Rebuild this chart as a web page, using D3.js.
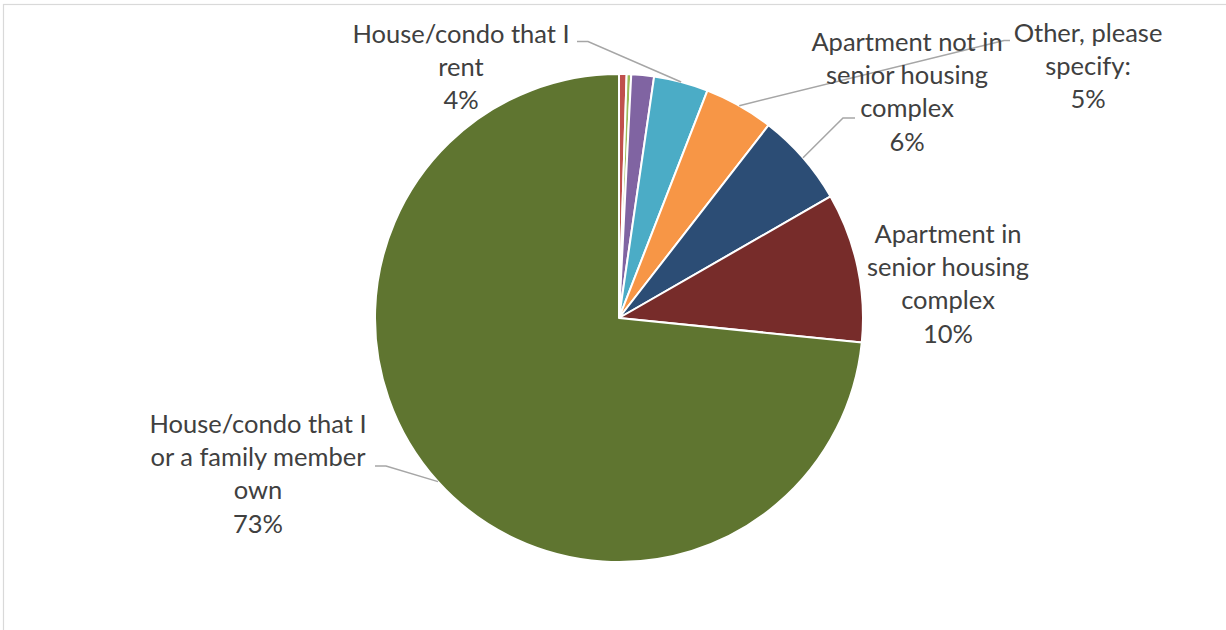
<!DOCTYPE html>
<html>
<head>
<meta charset="utf-8">
<script src="https://cdn.jsdelivr.net/npm/d3@7/dist/d3.min.js"></script>
<style>
  html, body { margin: 0; padding: 0; background: #fff; }
  svg { display: block; }
  .lbl { font-family: Lato, "Open Sans", sans-serif; fill: #404040; }
</style>
</head>
<body>
<svg id="chart" width="1226" height="630"></svg>
<script>
// Where respondents live: share of responses per housing type (percent)
const categories = [
  "Assisted living facility",
  "Nursing home",
  "Live with family",
  "House/condo that I rent",
  "Other, please specify:",
  "Apartment not in senior housing complex",
  "Apartment in senior housing complex",
  "House/condo that I or a family member own"
];
const shares = [0.5, 0.3, 1.5, 3.6, 4.6, 6.2, 9.9, 73.4];

// Label text lines (only the larger slices carry labels)
const labelLines = [
  null,
  null,
  null,
  ["House/condo that I", "rent"],
  ["Other, please", "specify:"],
  ["Apartment not in", "senior housing", "complex"],
  ["Apartment in", "senior housing", "complex"],
  ["House/condo that I", "or a family member", "own"]
];

const colors = ["#C0504D", "#9BBB59", "#8064A2", "#4BACC6", "#F79646", "#2C4D75", "#772C2A", "#5F7530"];

// Label placement: text centre x, first baseline y, and leader start (or none)
const labelLayout = [
  null, null, null,
  { x: 461, y: 43,  lead: [[577, 41.5], [588, 41.5]] },
  { x: 1088, y: 42, lead: [[1010, 40.5], [1004, 40.5]] },
  { x: 907, y: 51,  lead: [[855, 118], [843, 118]] },
  { x: 948, y: 243, lead: null },
  { x: 258, y: 433, lead: [[375, 466], [386, 466]] }
];

const svg = d3.select("#chart");
const W = 1226, H = 630;
const cx = 619, cy = 318, R = 244;
const lineGap = 33.2;

// chart frame
svg.append("rect")
  .attr("x", 3.5).attr("y", 4.5)
  .attr("width", W + 10).attr("height", H + 10)
  .attr("fill", "#fff")
  .attr("stroke", "#D9D9D9").attr("stroke-width", 1.2);

const data = categories.map((c, i) => ({ name: c, value: shares[i], color: colors[i], lines: labelLines[i], layout: labelLayout[i] }));

const pie = d3.pie().value(d => d.value).sort(null).startAngle(0).endAngle(2 * Math.PI);
const arcs = pie(data);
const arc = d3.arc().innerRadius(0).outerRadius(R);

const g = svg.append("g").attr("transform", `translate(${cx},${cy})`);
g.selectAll("path.slice")
  .data(arcs)
  .join("path")
  .attr("class", "slice")
  .attr("d", arc)
  .attr("fill", d => d.data.color)
  .attr("stroke", "#fff")
  .attr("stroke-width", 2)
  .attr("stroke-linejoin", "round");

// leader lines run from the label to the rim at the slice's mid-angle
const rimPoint = a => {
  const mid = (a.startAngle + a.endAngle) / 2;
  return [cx + R * Math.sin(mid), cy - R * Math.cos(mid)];
};

const labelled = arcs.filter(a => a.data.lines);

svg.selectAll("polyline.lead")
  .data(labelled.filter(a => a.data.layout.lead))
  .join("polyline")
  .attr("class", "lead")
  .attr("points", a => a.data.layout.lead.concat([rimPoint(a)]).map(p => p.join(",")).join(" "))
  .attr("fill", "none")
  .attr("stroke", "#A6A6A6")
  .attr("stroke-width", 1.5);

const fmt = v => Math.round(v) + "%";

labelled.forEach(a => {
  const L = a.data.layout;
  const lines = a.data.lines.concat([fmt(a.data.value)]);
  const t = svg.append("text")
    .attr("class", "lbl")
    .attr("text-anchor", "middle")
    .attr("font-size", 25.5);
  lines.forEach((s, i) => {
    t.append("tspan").attr("x", L.x).attr("y", L.y + i * lineGap).text(s);
  });
});
</script>
</body>
</html>
